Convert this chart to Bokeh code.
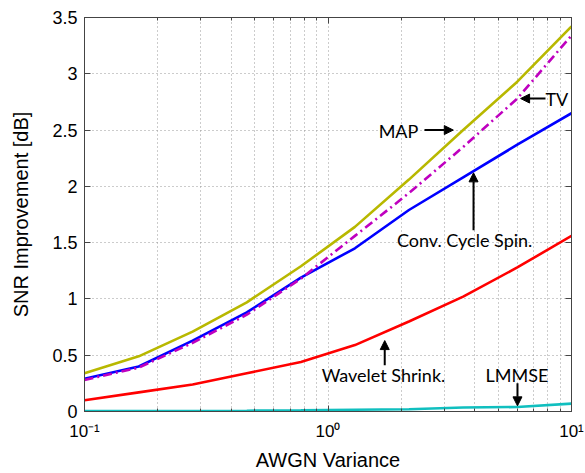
from bokeh.plotting import figure
from bokeh.models import (LogAxis, LinearAxis, Label, Arrow, NormalHead, Range1d,
                          FixedTicker, ColumnDataSource)
from bokeh.embed import file_html
from bokeh.resources import INLINE

# ---- data ----
variance = [0.1, 0.167, 0.278, 0.464, 0.774, 1.29, 2.15, 3.59, 5.99, 10.0]
snr_map = [0.34, 0.49, 0.71, 0.97, 1.29, 1.64, 2.06, 2.50, 2.93, 3.42]
snr_tv = [0.28, 0.39, 0.61, 0.86, 1.18, 1.56, 1.94, 2.35, 2.78, 3.34]
snr_ccs = [0.29, 0.40, 0.63, 0.88, 1.19, 1.45, 1.79, 2.08, 2.37, 2.65]
snr_wav = [0.10, 0.17, 0.24, 0.34, 0.44, 0.59, 0.80, 1.02, 1.28, 1.56]
snr_lmmse = [0.005, 0.005, 0.005, 0.007, 0.01, 0.015, 0.02, 0.035, 0.04, 0.07]

y_ticks = [0, 0.5, 1, 1.5, 2, 2.5, 3, 3.5]
y_tick_labels = ["0", "0.5", "1", "1.5", "2", "2.5", "3", "3.5"]
x_ticks = [0.1, 1, 10]
x_minor = [0.2, 0.3, 0.4, 0.5, 0.6, 0.7, 0.8, 0.9, 2, 3, 4, 5, 6, 7, 8, 9]
x_tick_labels = ["10\u207b\u00b9", "10\u2070", "10\u00b9"]

FONT = "Liberation Sans"
ANN_FONT = "Lato"
AX = "#444444"
GRID = "#999999"

p = figure(width=585, height=473, x_axis_type="log",
           x_range=Range1d(0.1, 10), y_range=Range1d(0, 3.5),
           output_backend="svg", toolbar_location=None,
           min_border_left=84, min_border_right=14, min_border_top=17, min_border_bottom=62)
p.background_fill_color = "white"
p.border_fill_color = "white"
p.outline_line_color = AX
p.outline_line_width = 1

xt = FixedTicker(ticks=x_ticks, minor_ticks=x_minor)
yt = FixedTicker(ticks=y_ticks)

for ax in (p.xaxis[0], p.yaxis[0]):
    ax.axis_line_color = AX
    ax.major_tick_in = 6
    ax.major_tick_out = 0
    ax.minor_tick_in = 3
    ax.minor_tick_out = 0
    ax.major_tick_line_color = AX
    ax.minor_tick_line_color = AX
    ax.major_label_text_font = FONT
    ax.major_label_text_color = "black"
    ax.axis_label_text_font = FONT
    ax.axis_label_text_font_size = "20px"
    ax.axis_label_text_font_style = "normal"
    ax.axis_label_text_color = "black"

p.xaxis[0].ticker = xt
p.xaxis[0].major_label_overrides = {t: l for t, l in zip(x_ticks, x_tick_labels)}
p.xaxis[0].major_label_text_font_size = "17px"
p.xaxis[0].major_label_standoff = 10
p.xaxis[0].axis_label = "AWGN Variance"
p.xaxis[0].axis_label_standoff = 5

p.yaxis[0].ticker = yt
p.yaxis[0].major_label_overrides = {t: l for t, l in zip(y_ticks, y_tick_labels)}
p.yaxis[0].major_label_text_font_size = "18px"
p.yaxis[0].major_label_standoff = 7
p.yaxis[0].minor_tick_in = 0
p.yaxis[0].axis_label = "SNR Improvement [dB]"
p.yaxis[0].axis_label_standoff = 17

# box ticks on top/right (labels invisible)
top = LogAxis(ticker=xt, major_label_text_font_size="1px", major_label_text_alpha=0,
              major_tick_in=6, major_tick_out=0, minor_tick_in=3, minor_tick_out=0,
              major_label_standoff=0, axis_line_color=AX,
              major_tick_line_color=AX, minor_tick_line_color=AX)
right = LinearAxis(ticker=yt, major_label_text_font_size="1px", major_label_text_alpha=0,
                   major_tick_in=6, major_tick_out=0, minor_tick_in=0, minor_tick_out=0,
                   major_label_standoff=0, axis_line_color=AX,
                   major_tick_line_color=AX)
p.add_layout(top, "above")
p.add_layout(right, "right")

# grid
for g in (p.xgrid[0], p.ygrid[0]):
    g.grid_line_color = GRID
    g.grid_line_dash = "1 3"
    g.grid_line_width = 1
    g.grid_line_alpha = 1
    g.level = "underlay"
p.xgrid[0].ticker = xt
p.ygrid[0].ticker = yt
p.xgrid[0].minor_grid_line_color = GRID
p.xgrid[0].minor_grid_line_dash = "1 3"
p.xgrid[0].minor_grid_line_width = 1

# lines
src = ColumnDataSource(dict(x=variance, map=snr_map, tv=snr_tv, ccs=snr_ccs,
                            wav=snr_wav, lmmse=snr_lmmse))
p.line("x", "lmmse", source=src, line_color="#10bfbf", line_width=2.6)
p.line("x", "wav", source=src, line_color="#ff0000", line_width=2.6)
p.line("x", "ccs", source=src, line_color="#0000ff", line_width=2.6)
p.line("x", "tv", source=src, line_color="#bf00bf", line_width=2.6, line_dash="9 4 2 4")
p.line("x", "map", source=src, line_color="#b8b800", line_width=2.6)

# annotations
def lab(x, y, text, align="center"):
    p.add_layout(Label(x=x, y=y, text=text, text_font=ANN_FONT, text_font_size="18px",
                       text_align=align, text_baseline="middle", text_color="black"))

def arr(x0, y0, x1, y1):
    p.add_layout(Arrow(x_start=x0, y_start=y0, x_end=x1, y_end=y1, line_width=2,
                       line_color="black",
                       end=NormalHead(size=9, fill_color="black", line_color="black")))

lab(2.35, 2.49, "MAP", "right")
arr(2.49, 2.50, 3.27, 2.50)
lab(7.82, 2.78, "TV", "left")
arr(7.82, 2.78, 6.18, 2.78)
lab(3.64, 1.52, "Conv. Cycle Spin.")
arr(3.96, 1.61, 3.96, 2.12)
lab(1.69, 0.32, "Wavelet Shrink.")
arr(1.71, 0.41, 1.71, 0.63)
lab(5.97, 0.32, "LMMSE")
arr(6.0, 0.25, 6.0, 0.05)

open("out.html", "w").write(file_html(p, INLINE))
